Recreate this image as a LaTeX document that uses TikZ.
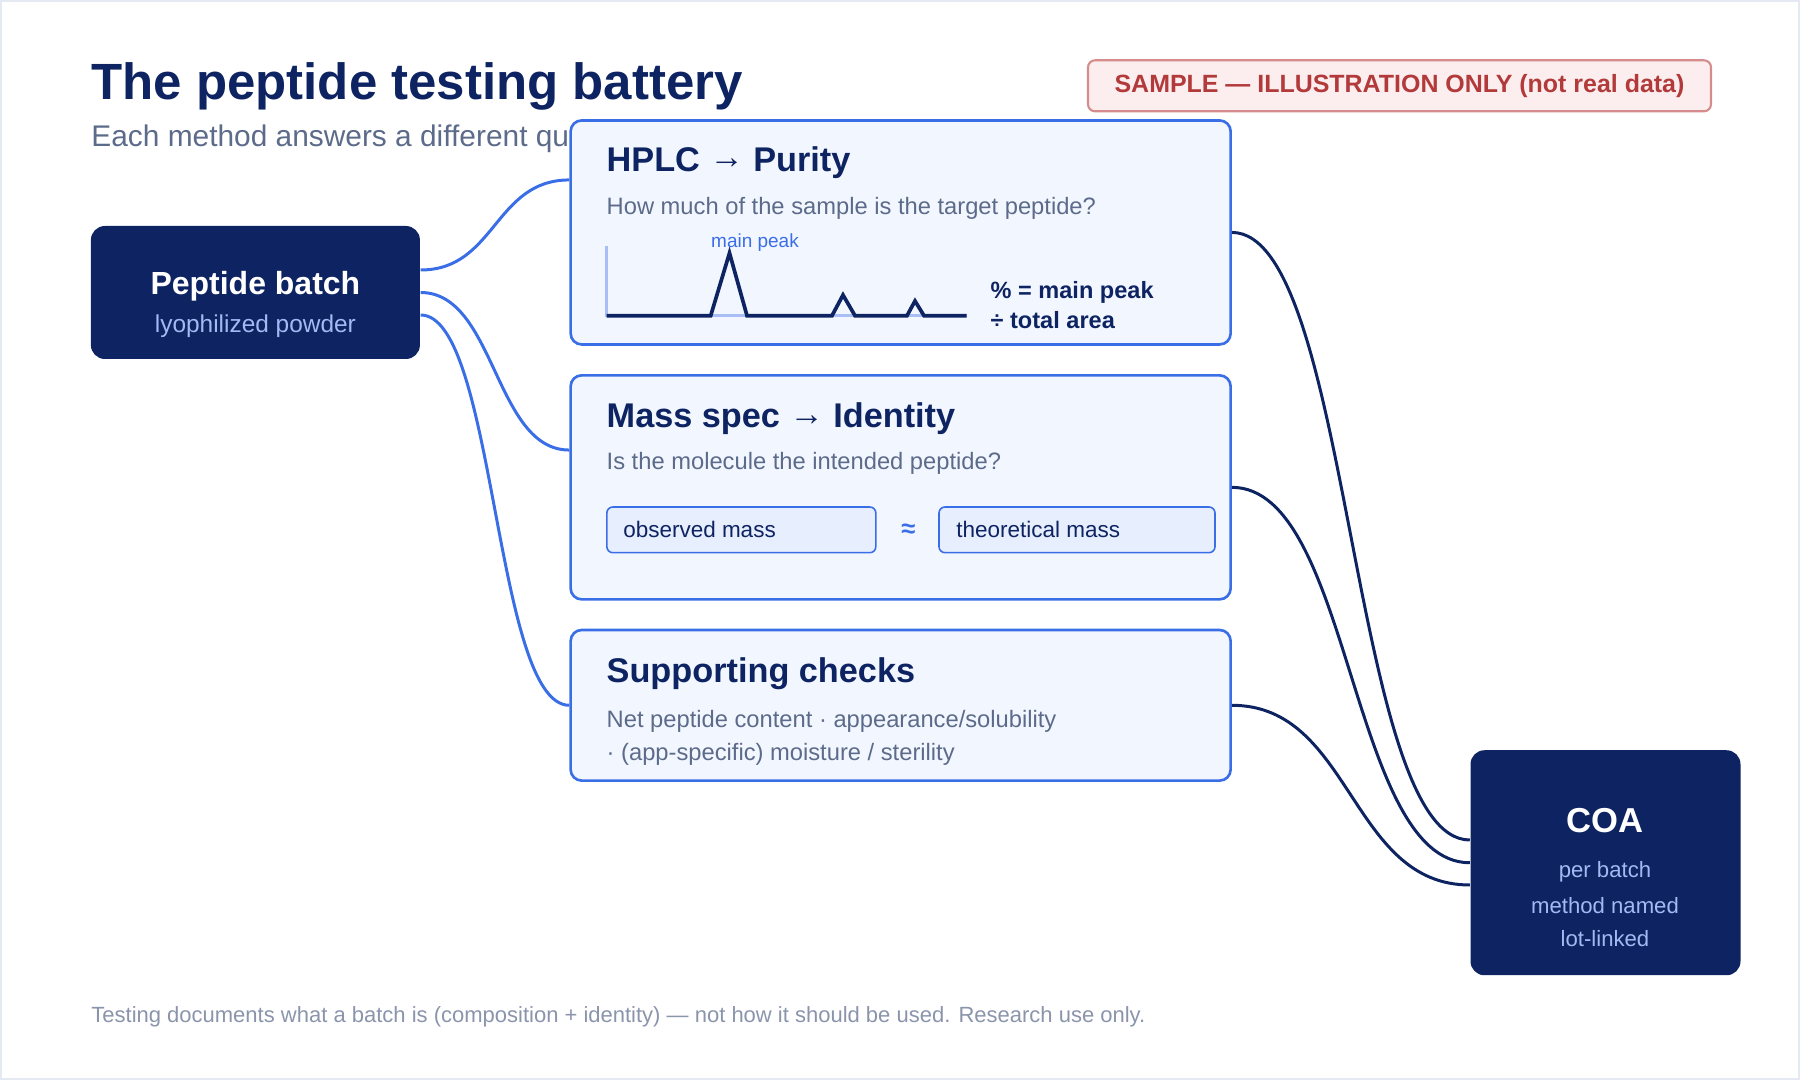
\documentclass[tikz,border=0pt]{standalone}
\usepackage{fontspec}
\setmainfont{Liberation Sans}
\usetikzlibrary{positioning,calc,backgrounds}
\definecolor{ptNavy}{HTML}{0E2462}
\definecolor{ptBlue}{HTML}{3A6EE6}
\definecolor{ptCard}{HTML}{F2F6FF}
\definecolor{ptChip}{HTML}{E7EEFE}
\definecolor{ptGrey}{HTML}{5C6B8A}
\definecolor{ptFoot}{HTML}{8A94AB}
\definecolor{ptPale}{HTML}{A3B9F3}
\definecolor{ptAxis}{HTML}{A8BEF5}
\definecolor{ptRed}{HTML}{B23A3A}
\definecolor{ptRedFill}{HTML}{FCEEEE}
\definecolor{ptRedLine}{HTML}{D68C8C}
\definecolor{ptFrame}{HTML}{E4E9F4}
\newcommand{\ptsize}[1]{\fontsize{#1pt}{#1pt}\selectfont}

\begin{document}
\begin{tikzpicture}[
    card/.style={draw=ptBlue, fill=ptCard, line width=0.75pt, rounded corners=0.11cm, minimum width=6.6cm, inner sep=0pt},
    darkbox/.style={fill=ptNavy, rounded corners=0.14cm, inner sep=0pt},
    chip/.style={draw=ptBlue, fill=ptChip, line width=0.45pt, rounded corners=0.06cm, minimum height=0.457cm, inner sep=0pt},
    chiptext/.style={font=\ptsize{6.4}, text=ptNavy, inner sep=0pt},
    head/.style={anchor=base west, font=\ptsize{9.75}\bfseries, text=ptNavy, inner sep=0pt},
    ask/.style={anchor=base west, font=\ptsize{6.75}, text=ptGrey, inner sep=0pt},
    darkhead/.style={anchor=base, font=\ptsize{9.5}\bfseries, text=white, inner sep=0pt},
    darksub/.style={anchor=base, font=\ptsize{6.5}, text=ptPale, inner sep=0pt},
    feed/.style={draw=ptBlue, line width=0.85pt},
    report/.style={draw=ptNavy, line width=0.85pt},
]
\useasboundingbox (0,0) rectangle (18,-10.8);
\draw[ptFrame, line width=0.6pt] (0.01,-0.01) rectangle (17.99,-10.79);

% ===== Heading =====
\node[anchor=base west, font=\ptsize{14.5}\bfseries, text=ptNavy, inner sep=0pt] (title) at (0.907,-1.0) {The peptide testing battery};
\node[anchor=base west, font=\ptsize{8.5}, text=ptGrey, inner sep=0pt] (subtitle) at (0.907,-1.467) {Each method answers a different question.};

\node[draw=ptRedLine, fill=ptRedFill, line width=0.6pt, rounded corners=0.07cm, minimum width=6.23cm, minimum height=0.51cm,
    font=\ptsize{7.1}\bfseries, text=ptRed] (sample) at (13.995,-0.858) {SAMPLE — ILLUSTRATION ONLY (not real data)};

% ===== Input batch =====
\node[darkbox, minimum width=3.29cm, minimum height=1.33cm] (batch) at (2.554,-2.925) {};
\node[darkhead, font=\ptsize{9.1}\bfseries] (batchname) at (2.554,-2.95) {Peptide batch};
\node[darksub, font=\ptsize{6.95}] (batchform) at (2.554,-3.33) {lyophilized powder};

% ===== HPLC card =====
\node[card, minimum height=2.24cm] (hplc) at (9.0065,-2.3245) {};
\node[head] (hplchead) at (6.06,-1.717) {HPLC \raisebox{0.15ex}{→} Purity};
\node[ask] (hplcask) at (6.06,-2.15) {How much of the sample is the target peptide?};

% chromatogram
\draw[ptAxis, line width=0.8pt] (6.067,-2.46) -- (6.067,-3.157) -- (9.665,-3.157);
\draw[ptNavy, line width=1.05pt] (6.067,-3.157) -- (7.107,-3.157) -- (7.295,-2.53) -- (7.47,-3.157)
    -- (8.32,-3.157) -- (8.43,-2.95) -- (8.55,-3.157)
    -- (9.07,-3.157) -- (9.15,-3.01) -- (9.24,-3.157) -- (9.665,-3.157);
\node[anchor=base, font=\ptsize{5.4}, text=ptBlue, inner sep=0pt] (peaklabel) at (7.55,-2.48) {main peak};
\node[anchor=base west, font=\ptsize{6.7}\bfseries, text=ptNavy, inner sep=0pt] (ratio1) at (9.90,-2.99) {\% = main peak};
\node[anchor=base west, font=\ptsize{6.7}\bfseries, text=ptNavy, inner sep=0pt] (ratio2) at (9.90,-3.287) {÷ total area};

% ===== Mass spec card =====
\node[card, minimum height=2.24cm] (ms) at (9.0065,-4.8735) {};
\node[head] (mshead) at (6.06,-4.28) {Mass spec \raisebox{0.15ex}{→} Identity};
\node[ask] (msask) at (6.06,-4.70) {Is the molecule the intended peptide?};

\node[chip, minimum width=2.69cm] (observed) at (7.4135,-5.2985) {};
\node[chiptext, right=0.165cm of observed.west] (observedtext) {observed mass};
\node[font=\ptsize{7.3}\bfseries, text=ptBlue, inner sep=0pt] (approx) at (9.085,-5.31) {≈};
\node[chip, minimum width=2.76cm] (theory) at (10.77,-5.2985) {};
\node[chiptext, right=0.175cm of theory.west] (theorytext) {theoretical mass};

% ===== Supporting card =====
\node[card, minimum height=1.506cm] (sup) at (9.0065,-7.053) {};
\node[head] (suphead) at (6.06,-6.83) {Supporting checks};
\node[ask] (supline1) at (6.06,-7.28) {Net peptide content · appearance/solubility};
\node[ask] (supline2) at (6.06,-7.61) {· (app-specific) moisture / sterility};

% ===== Output COA =====
\node[darkbox, minimum width=2.70cm, minimum height=2.25cm] (coa) at (16.055,-8.6275) {};
\node[darkhead, font=\ptsize{9.85}\bfseries] (coahead) at (16.05,-8.327) {COA};
\node[darksub, font=\ptsize{6.3}] (coa1) at (16.05,-8.78) {per batch};
\node[darksub, font=\ptsize{6.3}] (coa2) at (16.05,-9.14) {method named};
\node[darksub, font=\ptsize{6.3}] (coa3) at (16.05,-9.467) {lot-linked};

% ===== Connectors (behind the cards) =====
\begin{scope}[on background layer]
\draw[feed] ([yshift=0.225cm]batch.east) .. controls +(0.75,0) and +(-0.75,0) .. ([yshift=0.525cm]hplc.west);
\draw[feed] (batch.east) .. controls +(0.75,0) and +(-0.75,0) .. ([yshift=0.373cm]ms.west);
\draw[feed] ([yshift=-0.225cm]batch.east) .. controls +(0.75,0) and +(-0.75,0) .. (sup.west);
\draw[report] (hplc.east) .. controls +(1.2,0) and +(-1.2,0) .. ([yshift=0.2275cm]coa.west);
\draw[report] (ms.east) .. controls +(1.2,0) and +(-1.2,0) .. (coa.west);
\draw[report] (sup.east) .. controls +(1.2,0) and +(-1.2,0) .. ([yshift=-0.2225cm]coa.west);
\end{scope}

% ===== Footer =====
\node[anchor=base west, font=\ptsize{6.26}, text=ptFoot, inner sep=0pt] (footer) at (0.907,-10.23)
    {Testing documents what a batch is (composition + identity) — not how it should be used. Research use only.};

\end{tikzpicture}
\end{document}
